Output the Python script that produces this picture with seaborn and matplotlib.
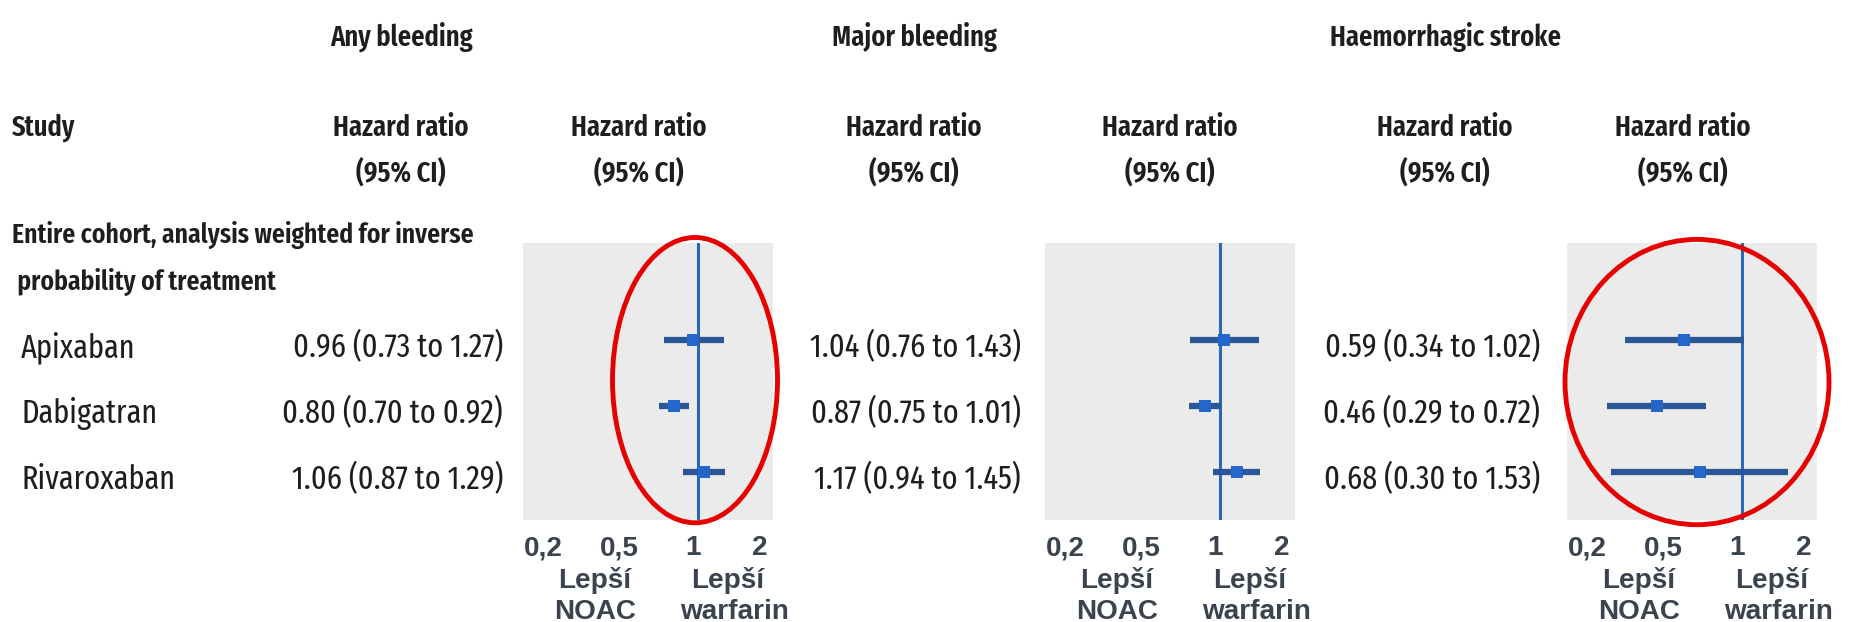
import matplotlib
matplotlib.use("Agg")
import matplotlib.pyplot as plt
import matplotlib.transforms as mtransforms
import seaborn as sns
import pandas as pd
from matplotlib.patches import Ellipse

# ---------------- data ----------------
studies = ["Apixaban", "Dabigatran", "Rivaroxaban"]
outcomes = ["Any bleeding", "Major bleeding", "Haemorrhagic stroke"]
hr_any = [0.96, 0.80, 1.06]
lo_any = [0.73, 0.70, 0.87]
hi_any = [1.27, 0.92, 1.29]
hr_major = [1.04, 0.87, 1.17]
lo_major = [0.76, 0.75, 0.94]
hi_major = [1.43, 1.01, 1.45]
hr_stroke = [0.59, 0.46, 0.68]
lo_stroke = [0.34, 0.29, 0.30]
hi_stroke = [1.02, 0.72, 1.53]
tick_values = [0.2, 0.5, 1, 2]
tick_labels = ["0,2", "0,5", "1", "2"]
left_label = ["Lepší", "NOAC"]
right_label = ["Lepší", "warfarin"]
section_label = ["Entire cohort, analysis weighted for inverse", " probability of treatment"]
circled = [True, False, True]

series = [(hr_any, lo_any, hi_any), (hr_major, lo_major, hi_major), (hr_stroke, lo_stroke, hi_stroke)]

# ---------------- style ----------------
sns.set_theme(style="white")
COND = ["Fira Sans Extra Condensed", "Fira Sans Condensed", "DejaVu Sans"]
SANS = ["Liberation Sans", "DejaVu Sans"]
plt.rcParams["font.family"] = COND

W, H = 1862, 622
fig = plt.figure(figsize=(W / 100, H / 100), dpi=100)
fig.patch.set_facecolor("white")
renderer = fig.canvas.get_renderer()


def fit_size(sample, target_px, **kw):
    t = fig.text(0, 0, sample, fontsize=20, **kw)
    w = t.get_window_extent(renderer).width
    t.remove()
    return 20 * target_px / w


def fx(x):
    return x / W


def fy(y):
    return 1 - y / H


TXT = "#1e1e1e"
LINE_C = "#2b5797"
MARK_C = "#2566cc"
REF_C = "#2a67b4"
AX_TXT = "#3a434e"
HEAD_W = 600

fs_val = fit_size("0.96 (0.73 to 1.27)", 210, family=COND)
fs_head = fit_size("Hazard ratio", 136, family=COND, fontweight=HEAD_W)
fs_sec = fit_size(section_label[0], 462, family=COND, fontweight=HEAD_W)
fs_ax = fit_size("NOAC", 82, family=SANS, fontweight="bold")

panel_left = [523, 1045, 1567]
panel_top, panel_bot = 243, 520
panel_w = 250

# header texts
fig.text(fx(12), fy(136), "Study", fontsize=fs_head, fontweight=HEAD_W, color=TXT, va="baseline", ha="left")
fig.text(fx(12), fy(243), section_label[0], fontsize=fs_sec, fontweight=HEAD_W, color=TXT, va="baseline", ha="left")
fig.text(fx(12), fy(290), section_label[1], fontsize=fs_sec, fontweight=HEAD_W, color=TXT, va="baseline", ha="left")

title_x = [401, 914, 1445]
col_x = [401, 639, 914, 1170, 1445, 1683]
for t, x in zip(outcomes, title_x):
    fig.text(fx(x), fy(46), t, fontsize=fs_head, fontweight=HEAD_W, color=TXT, ha="center", va="baseline")
for x in col_x:
    fig.text(fx(x), fy(136), "Hazard ratio", fontsize=fs_head, fontweight=HEAD_W, color=TXT, ha="center", va="baseline")
    fig.text(fx(x), fy(181), "(95% CI)", fontsize=fs_head, fontweight=HEAD_W, color=TXT, ha="center", va="baseline")

row_base = [357, 423, 489]
for s, y in zip(studies, row_base):
    fig.text(fx(21), fy(y), s, fontsize=fs_val, color=TXT, ha="left", va="baseline")

value_right = [503, 1021, 1540]
for (hr, lo, hi), xr in zip(series, value_right):
    for h, l, u, y in zip(hr, lo, hi, row_base):
        fig.text(fx(xr), fy(y), f"{h:.2f} ({l:.2f} to {u:.2f})", fontsize=fs_val, color=TXT,
                 ha="right", va="baseline")

# tick label nudges (pixels) so labels sit where the reference shows them
tick_shift = [20, -3, -5, -13]

# panels
for i, ((hr, lo, hi), xl) in enumerate(zip(series, panel_left)):
    ax = fig.add_axes([fx(xl), fy(panel_bot), panel_w / W, (panel_bot - panel_top) / H])
    ax.set_facecolor("#ebebeb")
    for sp in ax.spines.values():
        sp.set_visible(False)
    df = pd.DataFrame({"study": studies, "hr": hr, "lo": lo, "hi": hi, "pos": range(len(studies))})
    ax.set_xscale("log")
    ax.axvline(1, color=REF_C, lw=2.2, zorder=2)
    ax.hlines(df["pos"], df["lo"], df["hi"], color=LINE_C, lw=4.5, zorder=3)
    sns.scatterplot(data=df, x="hr", y="pos", marker="s", s=80, color=MARK_C,
                    edgecolor=MARK_C, linewidth=0, ax=ax, zorder=4, legend=False)
    ax.set_xlim(0.2, 2)
    ax.set_ylim(2.73, -1.47)
    ax.set_yticks([])
    ax.set_xticks(tick_values)
    ax.set_xticks([], minor=True)
    ax.set_xticklabels(tick_labels, fontsize=fs_ax, fontweight="bold", color=AX_TXT, family=SANS)
    ax.tick_params(axis="x", length=0, pad=25.2)
    for lab, dx in zip(ax.get_xticklabels(), tick_shift):
        lab.set_verticalalignment("baseline")
        lab.set_transform(lab.get_transform() + mtransforms.ScaledTranslation(dx / 100, 0, fig.dpi_scale_trans))
    ax.set_xlabel("")
    ax.set_ylabel("")
    ax.grid(False)

    ax.text(0.288, (panel_bot - 588) / 277, left_label[0], transform=ax.transAxes, ha="center", va="baseline",
            fontsize=fs_ax, fontweight="bold", color=AX_TXT, family=SANS)
    ax.text(0.288, (panel_bot - 619) / 277, left_label[1], transform=ax.transAxes, ha="center", va="baseline",
            fontsize=fs_ax, fontweight="bold", color=AX_TXT, family=SANS)
    ax.text(0.82, (panel_bot - 588) / 277, right_label[0], transform=ax.transAxes, ha="center", va="baseline",
            fontsize=fs_ax, fontweight="bold", color=AX_TXT, family=SANS)
    ax.text(0.845, (panel_bot - 619) / 277, right_label[1], transform=ax.transAxes, ha="center", va="baseline",
            fontsize=fs_ax, fontweight="bold", color=AX_TXT, family=SANS)

    if circled[i]:
        if i == 0:
            e = Ellipse((0.688, 0.505), 0.66, 1.03, transform=ax.transAxes, fill=False,
                        edgecolor="#e60000", lw=3.5, clip_on=False, zorder=10)
        else:
            e = Ellipse((0.52, 0.498), 1.056, 1.03, transform=ax.transAxes, fill=False,
                        edgecolor="#e60000", lw=3.5, clip_on=False, zorder=10)
        ax.add_patch(e)

fig.savefig("out.png", dpi=100, facecolor="white")
